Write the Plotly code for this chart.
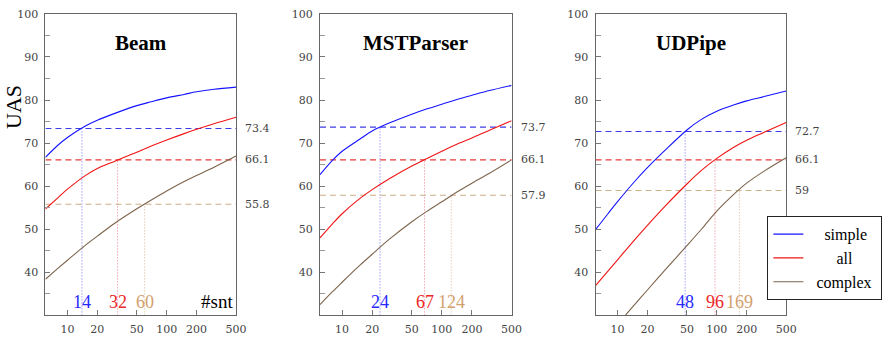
import numpy as np
import plotly.graph_objects as go

# ---------------- data ----------------
SNT = [6, 8, 10, 15, 20, 30, 50, 70, 100, 150, 200, 300, 500]
SERIES = ["simple", "all", "complex"]
PANELS = ["Beam", "MSTParser", "UDPipe"]

beam_simple = [66.7, 69.5, 71.3, 73.9, 75.3, 76.9, 78.7, 79.6, 80.5, 81.3, 81.9, 82.5, 83.0]
beam_all = [54.7, 57.3, 59.3, 62.4, 64.1, 65.8, 67.9, 69.3, 70.7, 72.2, 73.2, 74.5, 76.0]
beam_complex = [38.4, 40.9, 42.8, 46.2, 48.4, 51.4, 54.75, 56.8, 58.9, 61.1, 62.5, 64.4, 67.0]

mst_simple = [62.7, 66.0, 68.1, 70.9, 72.8, 74.7, 76.7, 77.9, 79.0, 80.3, 81.1, 82.2, 83.4]
mst_all = [48.0, 51.25, 53.6, 57.1, 59.2, 61.8, 64.7, 66.35, 68.1, 70.0, 71.2, 73.0, 75.2]
mst_complex = [32.5, 35.5, 37.7, 41.6, 44.2, 47.75, 51.75, 54.1, 56.4, 59.0, 60.7, 63.0, 66.1]

udp_simple = [49.9, 53.6, 56.4, 61.2, 64.3, 68.3, 73.05, 75.5, 77.4, 78.9, 79.8, 80.8, 82.1]
udp_all = [36.9, 40.3, 42.9, 47.65, 50.9, 55.3, 60.5, 63.65, 66.45, 69.1, 70.65, 72.5, 74.8]
udp_complex = [21.9, 25.25, 27.9, 32.6, 35.9, 40.5, 46.2, 50.0, 54.2, 58.2, 60.7, 63.5, 66.6]

# reference levels (dashed) and crossing #snt (dotted)
beam_levels = [73.4, 66.1, 55.8]
beam_cross = [14, 32, 60]
mst_levels = [73.7, 66.1, 57.9]
mst_cross = [24, 67, 124]
udp_levels = [72.7, 66.1, 59.0]
udp_cross = [48, 96, 169]
level_labels = [["73.4", "66.1", "55.8"], ["73.7", "66.1", "57.9"], ["72.7", "66.1", "59"]]

X_TICKS = [10, 20, 50, 100, 200, 500]
Y_TICKS = [40, 50, 60, 70, 80, 90, 100]

# ---------------- styling ----------------
W, H = 889, 338
LINE_COL = ["rgb(20,20,255)", "rgb(240,20,20)", "rgb(125,100,75)"]
DASH_COL = ["rgb(60,60,230)", "rgb(230,60,60)", "rgb(205,175,135)"]
DOT_COL = ["rgb(110,110,240)", "rgb(240,120,140)", "rgb(215,180,140)"]
NUM_COL = ["rgb(40,40,255)", "rgb(235,40,40)", "rgb(210,160,110)"]
SERIF = "Liberation Serif"
TICKF = "DejaVu Serif"
NB = "\u00a0"
LEGEND_NAMES = [NB * 4 + "simple", NB * 7 + "all", NB * 2 + "complex" + NB]

px_dom = [(46, 239), (324, 518), (603, 796)]
ydom = [1 - 315 / H, 1 - 8 / H]

data = [
    ([beam_simple, beam_all, beam_complex], beam_levels, beam_cross),
    ([mst_simple, mst_all, mst_complex], mst_levels, mst_cross),
    ([udp_simple, udp_all, udp_complex], udp_levels, udp_cross),
]

fig = go.Figure()
annotations = []
layout = {}
for p, (curves, levels, cross) in enumerate(data):
    sfx = "" if p == 0 else str(p + 1)
    xa, ya = "x" + sfx, "y" + sfx
    for k in range(3):
        fig.add_trace(go.Scatter(x=[SNT[0], SNT[-1]], y=[levels[k]] * 2, mode="lines",
                                 line=dict(color=DASH_COL[k], width=1.1, dash="6px,4px"),
                                 xaxis=xa, yaxis=ya, showlegend=False, hoverinfo="skip"))
        fig.add_trace(go.Scatter(x=[cross[k]] * 2, y=[30, levels[k]], mode="lines",
                                 line=dict(color=DOT_COL[k], width=1, dash="1px,2px"),
                                 xaxis=xa, yaxis=ya, showlegend=False, hoverinfo="skip"))
    for k in range(3):
        fig.add_trace(go.Scatter(x=SNT, y=curves[k], mode="lines", name=LEGEND_NAMES[k],
                                 line=dict(color=LINE_COL[k], width=1.1, shape="spline", smoothing=0.9),
                                 xaxis=xa, yaxis=ya, showlegend=(p == 2), hoverinfo="skip"))
    d0, d1 = px_dom[p]
    layout["xaxis" + sfx] = dict(
        domain=[d0 / W, d1 / W], type="log", range=[np.log10(6), np.log10(500)],
        tickvals=X_TICKS, ticktext=[str(v) for v in X_TICKS], ticks="inside", ticklen=5,
        tickcolor="#777", showline=True, linecolor="#666", linewidth=1, mirror=True,
        showgrid=False, zeroline=False, anchor=ya, ticklabelstandoff=3,
        tickfont=dict(family=TICKF, size=11, color="#444"))
    layout["yaxis" + sfx] = dict(
        domain=ydom, range=[30, 100], tickvals=Y_TICKS, ticks="inside", ticklen=5,
        tickcolor="#777", showline=True, linecolor="#666", linewidth=1, mirror=True,
        showgrid=False, zeroline=False, anchor=xa, ticklabelstandoff=4,
        minor=dict(tickvals=[35, 45, 55, 65, 75, 85, 95], ticks="inside", ticklen=5, tickcolor="#999"),
        tickfont=dict(family=TICKF, size=11, color="#444"))
    annotations.append(dict(text="<b>%s</b>" % PANELS[p], xref=xa + " domain", yref=ya + " domain",
                            x=0.5, y=0.902, xanchor="center", yanchor="middle", showarrow=False,
                            font=dict(family=SERIF, size=21, color="black")))
    for k in range(3):
        annotations.append(dict(text=level_labels[p][k], xref=xa + " domain", yref=ya,
                                x=1, y=levels[k], xanchor="left", yanchor="middle", xshift=7,
                                showarrow=False, font=dict(family=TICKF, size=11, color="#444")))
        annotations.append(dict(text=str(cross[k]), xref=xa, yref=ya, x=np.log10(cross[k]), y=33.2,
                                xanchor="center", yanchor="middle", showarrow=False,
                                font=dict(family=SERIF, size=18, color=NUM_COL[k])))
    if p == 0:
        annotations.append(dict(text="#snt", xref=xa + " domain", yref=ya, x=1, y=33.2,
                                xanchor="right", yanchor="middle", xshift=-1, showarrow=False,
                                font=dict(family=SERIF, size=19, color="black")))

annotations.append(dict(text="UAS", xref="paper", yref="paper", x=13 / W, y=1 - 103 / H,
                        xanchor="center", yanchor="middle", textangle=-90, showarrow=False,
                        font=dict(family=SERIF, size=22, color="black")))

fig.update_layout(
    width=W, height=H, margin=dict(l=0, r=0, t=0, b=0),
    paper_bgcolor="white", plot_bgcolor="white",
    annotations=annotations,
    legend=dict(x=777 / W, y=1 - 214 / H, xanchor="left", yanchor="top",
                bordercolor="#222", borderwidth=1, bgcolor="white",
                font=dict(family=SERIF, size=16, color="black"), itemwidth=30,
                tracegroupgap=0),
    **layout,
)
fig.write_html("out.html")
